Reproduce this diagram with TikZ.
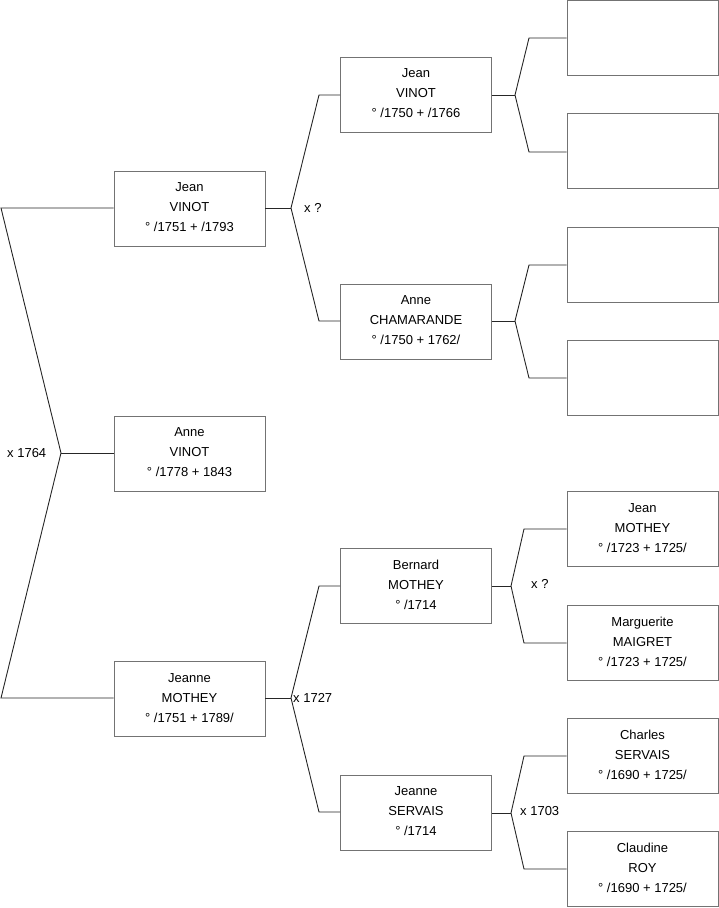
\documentclass[tikz,border=0pt]{standalone}
\usepackage{fontspec}
\setmainfont{Liberation Sans}
\newcommand\pers[3]{#1\\#2\\#3\rule[-2pt]{0pt}{2pt}}
\begin{document}
\begin{tikzpicture}[x=1pt,y=-1pt,
  box/.style={draw=black!55,line width=0.9pt,rectangle,minimum width=151pt,minimum height=75pt,inner sep=0pt,align=center,font=\fontsize{13}{20}\selectfont},
  link/.style={draw=black!85,line width=0.9pt},
  lbl/.style={inner sep=0pt,anchor=west,font=\fontsize{13}{15}\selectfont}]
\useasboundingbox (0,0) rectangle (719,908);
% level 1
\node[box] (g1) at (189.5,208.5) {\pers{Jean}{VINOT}{° /1751 + /1793}};
\node[box] (g2) at (189.5,453.5) {\pers{Anne}{VINOT}{° /1778 + 1843}};
\node[box] (g3) at (189.5,699) {\pers{Jeanne}{MOTHEY}{° /1751 + 1789/}};
% level 2
\node[box] (p1) at (416,94.5) {\pers{Jean}{VINOT}{° /1750 + /1766}};
\node[box] (p2) at (416,321.5) {\pers{Anne}{CHAMARANDE}{° /1750 + 1762/}};
\node[box] (p3) at (416,585.5) {\pers{Bernard}{MOTHEY}{° /1714}};
\node[box] (p4) at (416,812.5) {\pers{Jeanne}{SERVAIS}{° /1714}};
% level 3
\node[box] (a1) at (642.5,38) {};
\node[box] (a2) at (642.5,151) {};
\node[box] (a3) at (642.5,264.5) {};
\node[box] (a4) at (642.5,377.5) {};
\node[box] (a5) at (642.5,529) {\pers{Jean}{MOTHEY}{° /1723 + 1725/}};
\node[box] (a6) at (642.5,642.5) {\pers{Marguerite}{MAIGRET}{° /1723 + 1725/}};
\node[box] (a7) at (642.5,755.5) {\pers{Charles}{SERVAIS}{° /1690 + 1725/}};
\node[box] (a8) at (642.5,869) {\pers{Claudine}{ROY}{° /1690 + 1725/}};
% fork points
\coordinate (r0t) at (1,208);
\coordinate (r0) at (61,453);
\coordinate (r0b) at (1,698);
\coordinate (f1) at (291,208);
\coordinate (f1t) at (319,95);
\coordinate (f1b) at (319,321);
\coordinate (f3) at (291,698);
\coordinate (f3t) at (319,586);
\coordinate (f3b) at (319,812);
\coordinate (h1) at (515,95);
\coordinate (h1t) at (529,38);
\coordinate (h1b) at (529,152);
\coordinate (h2) at (515,321);
\coordinate (h2t) at (529,265);
\coordinate (h2b) at (529,378);
\coordinate (h3) at (511,586);
\coordinate (h3t) at (524,529);
\coordinate (h3b) at (524,643);
\coordinate (h4) at (511,813);
\coordinate (h4t) at (524,756);
\coordinate (h4b) at (524,869);
% connectors
\draw[link] (g1.west |- r0t) -- (r0t) -- (r0) -- (r0b) -- (g3.west |- r0b);
\draw[link] (r0) -- (g2.west |- r0);
\draw[link] (g1.east |- f1) -- (f1);
\draw[link] (p1.west |- f1t) -- (f1t) -- (f1) -- (f1b) -- (p2.west |- f1b);
\draw[link] (g3.east |- f3) -- (f3);
\draw[link] (p3.west |- f3t) -- (f3t) -- (f3) -- (f3b) -- (p4.west |- f3b);
\draw[link] (p1.east |- h1) -- (h1);
\draw[link] (a1.west |- h1t) -- (h1t) -- (h1) -- (h1b) -- (a2.west |- h1b);
\draw[link] (p2.east |- h2) -- (h2);
\draw[link] (a3.west |- h2t) -- (h2t) -- (h2) -- (h2b) -- (a4.west |- h2b);
\draw[link] (p3.east |- h3) -- (h3);
\draw[link] (a5.west |- h3t) -- (h3t) -- (h3) -- (h3b) -- (a6.west |- h3b);
\draw[link] (p4.east |- h4) -- (h4);
\draw[link] (a7.west |- h4t) -- (h4t) -- (h4) -- (h4b) -- (a8.west |- h4b);
% marriage labels
\node[lbl] (m0) at (7,453) {x 1764};
\node[lbl] (m1) at (304,208) {x ?};
\node[lbl] (m3) at (293,698) {x 1727};
\node[lbl] (m4) at (531,584) {x ?};
\node[lbl] (m5) at (520,811) {x 1703};
\end{tikzpicture}
\end{document}
